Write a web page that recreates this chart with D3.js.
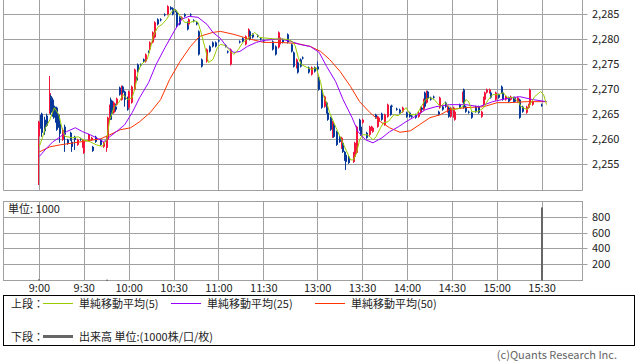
<!DOCTYPE html>
<html>
<head>
<meta charset="utf-8">
<script src="https://cdn.jsdelivr.net/npm/d3@7"></script>
<style>
  body { margin: 0; background: #fff; }
  svg { display: block; font-family: "Noto Sans CJK JP", "Noto Sans", sans-serif; }
</style>
</head>
<body>
<svg id="chart" width="638" height="362"></svg>
<script>
// --- data ---
const timeTicks = ["9:00", "9:30", "10:00", "10:30", "11:00", "11:30", "13:00", "13:30", "14:00", "14:30", "15:00", "15:30"];
const priceTicks = [2255, 2260, 2265, 2270, 2275, 2280, 2285];
const volumeTicks = [200, 400, 600, 800];

// [time, open, high, low, close]
const candles = [
  ["9:00", 2260.7, 2263.8, 2251.0, 2263.6], ["9:01", 2264.6, 2265.0, 2262.2, 2262.4],
  ["9:02", 2265.2, 2265.4, 2260.6, 2261.4], ["9:04", 2264.0, 2264.6, 2261.0, 2261.7],
  ["9:05", 2264.8, 2265.2, 2262.6, 2262.8], ["9:07", 2265.3, 2272.7, 2265.2, 2269.3],
  ["9:08", 2268.7, 2269.0, 2265.0, 2265.4], ["9:09", 2268.0, 2268.4, 2264.6, 2264.8],
  ["9:10", 2266.8, 2267.2, 2264.2, 2264.4], ["9:11", 2266.4, 2266.6, 2263.4, 2263.6],
  ["9:12", 2266.4, 2266.6, 2261.8, 2262.0], ["9:13", 2265.0, 2265.2, 2262.4, 2262.6],
  ["9:14", 2263.2, 2263.6, 2259.4, 2261.2], ["9:16", 2260.0, 2262.4, 2259.8, 2262.0],
  ["9:17", 2262.6, 2263.0, 2257.6, 2261.0], ["9:19", 2260.0, 2260.2, 2259.0, 2259.2],
  ["9:21", 2261.4, 2261.6, 2259.8, 2260.0], ["9:22", 2259.6, 2260.0, 2257.6, 2258.6],
  ["9:24", 2260.6, 2260.8, 2258.0, 2260.0], ["9:26", 2259.0, 2260.2, 2258.8, 2260.0],
  ["9:28", 2260.2, 2260.4, 2259.8, 2260.0], ["9:29", 2258.6, 2260.2, 2258.4, 2260.0],
  ["9:30", 2257.4, 2260.0, 2257.2, 2259.8], ["9:33", 2260.0, 2261.2, 2259.8, 2261.0],
  ["9:35", 2260.0, 2260.6, 2259.8, 2260.4], ["9:36", 2258.6, 2258.8, 2257.6, 2257.8],
  ["9:38", 2260.6, 2260.8, 2259.4, 2259.6], ["9:41", 2260.0, 2260.2, 2258.8, 2259.0],
  ["9:43", 2258.6, 2259.6, 2258.4, 2259.4], ["9:45", 2258.4, 2260.8, 2257.6, 2260.6],
  ["9:46", 2260.0, 2264.6, 2259.8, 2264.4], ["9:47", 2264.0, 2267.0, 2263.8, 2266.0],
  ["9:48", 2268.0, 2268.4, 2264.0, 2264.0], ["9:49", 2267.6, 2267.8, 2265.2, 2265.4],
  ["9:50", 2265.4, 2267.6, 2265.2, 2267.4], ["9:51", 2266.6, 2267.2, 2265.6, 2266.0],
  ["9:52", 2267.0, 2268.4, 2266.8, 2268.2], ["9:54", 2270.4, 2270.6, 2268.8, 2269.0],
  ["9:55", 2268.0, 2270.8, 2267.8, 2270.4], ["9:56", 2270.6, 2270.8, 2269.2, 2269.4],
  ["9:57", 2269.6, 2269.8, 2266.6, 2268.0], ["9:59", 2268.4, 2268.6, 2265.8, 2266.0],
  ["10:00", 2266.4, 2269.8, 2266.2, 2269.6], ["10:02", 2267.4, 2270.8, 2267.2, 2270.6],
  ["10:04", 2270.0, 2274.2, 2269.8, 2274.0], ["10:05", 2272.4, 2272.6, 2271.6, 2271.8],
  ["10:06", 2275.0, 2275.2, 2273.4, 2273.6], ["10:08", 2275.0, 2275.2, 2274.6, 2274.8],
  ["10:10", 2276.0, 2276.2, 2275.4, 2275.6], ["10:11", 2275.6, 2277.2, 2275.4, 2277.0],
  ["10:13", 2277.6, 2277.8, 2277.2, 2277.4], ["10:14", 2278.0, 2279.6, 2277.8, 2279.4],
  ["10:16", 2279.4, 2281.6, 2279.2, 2281.4], ["10:17", 2280.4, 2283.6, 2280.2, 2283.4],
  ["10:19", 2284.0, 2284.2, 2282.8, 2283.0], ["10:21", 2284.0, 2284.2, 2283.6, 2283.8],
  ["10:24", 2285.0, 2285.2, 2284.6, 2284.8], ["10:26", 2285.0, 2286.8, 2284.8, 2286.6],
  ["10:28", 2286.4, 2286.6, 2285.8, 2286.0], ["10:29", 2286.2, 2286.4, 2284.8, 2285.0],
  ["10:31", 2285.8, 2286.0, 2285.4, 2285.6], ["10:32", 2285.4, 2285.6, 2282.4, 2282.6],
  ["10:34", 2284.4, 2284.6, 2282.8, 2283.0], ["10:35", 2284.0, 2284.6, 2283.8, 2284.4],
  ["10:37", 2285.0, 2285.2, 2284.4, 2284.6], ["10:39", 2283.4, 2283.6, 2281.8, 2282.0],
  ["10:40", 2283.0, 2284.2, 2282.8, 2284.0], ["10:41", 2285.0, 2285.2, 2284.6, 2284.8],
  ["10:43", 2283.8, 2284.0, 2283.4, 2283.6], ["10:45", 2283.4, 2283.6, 2282.8, 2283.0],
  ["10:47", 2281.6, 2281.8, 2276.8, 2277.0], ["10:49", 2276.0, 2276.2, 2274.4, 2274.6],
  ["10:52", 2275.6, 2278.2, 2275.4, 2278.0], ["10:54", 2278.6, 2278.8, 2277.4, 2277.6],
  ["10:56", 2279.4, 2279.6, 2278.4, 2278.6], ["10:58", 2279.4, 2279.6, 2278.4, 2278.6],
  ["11:00", 2279.8, 2280.0, 2279.4, 2279.6], ["11:05", 2278.8, 2279.0, 2278.4, 2278.6],
  ["11:06", 2277.6, 2277.8, 2277.2, 2277.4], ["11:08", 2275.0, 2278.2, 2274.8, 2278.0],
  ["11:14", 2279.6, 2279.8, 2279.2, 2279.4], ["11:16", 2280.2, 2280.4, 2279.4, 2279.6],
  ["11:18", 2279.0, 2280.8, 2278.8, 2280.6], ["11:20", 2280.6, 2282.2, 2280.4, 2282.0],
  ["11:21", 2281.6, 2281.8, 2279.8, 2280.0], ["11:23", 2281.0, 2281.2, 2280.2, 2280.4],
  ["11:26", 2280.8, 2281.0, 2280.4, 2280.6], ["11:28", 2280.2, 2280.4, 2279.8, 2280.0],
  ["11:30", 2279.8, 2280.0, 2279.4, 2279.6],
  ["12:30", 2279.6, 2279.8, 2277.8, 2278.0], ["12:32", 2278.6, 2278.8, 2276.8, 2277.0],
  ["12:34", 2278.4, 2281.6, 2278.2, 2281.4], ["12:35", 2279.0, 2280.6, 2278.8, 2280.4],
  ["12:37", 2280.0, 2280.2, 2279.2, 2279.4], ["12:40", 2281.0, 2281.2, 2279.2, 2279.4],
  ["12:43", 2279.0, 2279.2, 2277.4, 2277.6], ["12:44", 2277.4, 2277.6, 2274.4, 2274.6],
  ["12:46", 2274.4, 2276.2, 2274.2, 2276.0], ["12:47", 2275.4, 2275.6, 2273.2, 2273.4],
  ["12:49", 2276.0, 2276.2, 2274.4, 2274.6], ["12:50", 2276.4, 2276.6, 2276.0, 2276.2],
  ["12:54", 2274.4, 2274.6, 2273.2, 2273.4], ["12:56", 2273.0, 2274.6, 2272.8, 2274.4],
  ["12:58", 2274.4, 2274.6, 2273.4, 2273.6], ["13:00", 2274.6, 2275.6, 2273.6, 2274.0],
  ["13:01", 2272.4, 2272.6, 2269.8, 2270.0], ["13:03", 2270.0, 2270.2, 2266.2, 2266.4],
  ["13:05", 2266.6, 2268.8, 2266.4, 2268.6], ["13:06", 2267.4, 2267.6, 2265.2, 2265.4],
  ["13:07", 2265.4, 2265.6, 2263.8, 2264.0], ["13:09", 2264.4, 2264.6, 2261.8, 2262.0],
  ["13:10", 2260.6, 2263.8, 2260.4, 2263.6], ["13:11", 2263.0, 2263.2, 2260.4, 2260.6],
  ["13:13", 2261.6, 2261.8, 2258.8, 2259.0], ["13:15", 2260.6, 2260.8, 2259.4, 2259.6],
  ["13:16", 2258.4, 2260.6, 2258.2, 2260.4], ["13:17", 2259.4, 2259.6, 2257.4, 2257.6],
  ["13:18", 2257.6, 2257.8, 2255.8, 2256.0], ["13:19", 2257.0, 2257.2, 2254.0, 2255.6],
  ["13:21", 2256.6, 2256.8, 2255.2, 2255.4], ["13:24", 2255.6, 2257.6, 2255.4, 2257.4],
  ["13:25", 2256.6, 2259.6, 2256.4, 2259.4], ["13:26", 2257.4, 2262.8, 2257.2, 2262.6],
  ["13:28", 2264.0, 2264.2, 2261.8, 2262.0], ["13:29", 2262.6, 2262.8, 2260.8, 2261.0],
  ["13:30", 2263.4, 2264.2, 2263.2, 2264.0], ["13:33", 2261.4, 2261.6, 2260.2, 2260.4],
  ["13:35", 2261.0, 2262.8, 2260.8, 2262.6], ["13:36", 2262.0, 2262.8, 2261.8, 2262.6],
  ["13:37", 2261.6, 2262.6, 2261.4, 2262.4], ["13:39", 2265.0, 2265.2, 2264.2, 2264.4],
  ["13:40", 2262.6, 2264.8, 2262.4, 2264.6], ["13:41", 2263.6, 2264.6, 2263.4, 2264.4],
  ["13:43", 2265.2, 2265.4, 2263.8, 2264.0], ["13:45", 2263.0, 2265.2, 2262.8, 2265.0],
  ["13:47", 2264.6, 2267.2, 2264.4, 2267.0], ["13:49", 2266.6, 2266.8, 2264.8, 2265.0],
  ["13:50", 2266.8, 2267.0, 2266.4, 2266.6], ["13:53", 2266.2, 2266.4, 2265.8, 2266.0],
  ["13:55", 2266.0, 2266.2, 2265.2, 2265.4], ["13:57", 2265.6, 2266.6, 2265.4, 2266.4],
  ["14:00", 2265.4, 2265.6, 2264.4, 2264.6], ["14:02", 2265.4, 2265.6, 2264.4, 2264.6],
  ["14:03", 2264.8, 2265.0, 2264.4, 2264.6], ["14:06", 2265.0, 2265.2, 2264.2, 2264.4],
  ["14:08", 2264.6, 2265.6, 2264.4, 2265.4], ["14:09", 2265.4, 2266.6, 2265.2, 2266.4],
  ["14:10", 2266.4, 2266.6, 2265.8, 2266.0], ["14:11", 2266.0, 2268.2, 2265.8, 2268.0],
  ["14:12", 2269.4, 2269.6, 2266.4, 2266.6], ["14:13", 2267.4, 2269.8, 2267.2, 2269.6],
  ["14:14", 2269.6, 2269.8, 2268.0, 2268.2], ["14:16", 2268.4, 2268.6, 2267.8, 2268.0],
  ["14:18", 2268.6, 2268.8, 2268.2, 2268.4], ["14:21", 2265.6, 2265.8, 2264.8, 2265.0],
  ["14:22", 2266.4, 2268.6, 2266.2, 2268.4], ["14:24", 2266.6, 2266.8, 2265.8, 2266.0],
  ["14:26", 2267.4, 2267.6, 2266.4, 2266.6], ["14:27", 2265.6, 2266.8, 2265.4, 2266.6],
  ["14:28", 2266.4, 2266.6, 2264.4, 2264.6], ["14:29", 2264.6, 2266.6, 2264.4, 2266.4],
  ["14:31", 2264.6, 2266.6, 2264.4, 2266.4], ["14:32", 2264.0, 2265.8, 2263.8, 2265.6],
  ["14:35", 2267.0, 2267.2, 2266.2, 2266.4], ["14:37", 2267.6, 2269.6, 2267.4, 2269.4],
  ["14:38", 2270.0, 2270.2, 2266.2, 2266.4], ["14:39", 2266.6, 2266.8, 2265.4, 2265.6],
  ["14:41", 2265.6, 2265.8, 2265.2, 2265.4], ["14:43", 2265.4, 2265.6, 2264.2, 2264.4],
  ["14:46", 2266.6, 2266.8, 2265.4, 2265.6], ["14:48", 2266.6, 2266.8, 2265.2, 2265.4],
  ["14:50", 2264.6, 2265.8, 2264.4, 2265.6], ["14:51", 2267.0, 2268.6, 2266.8, 2268.4],
  ["14:52", 2268.0, 2269.6, 2267.8, 2269.4], ["14:53", 2269.4, 2270.2, 2269.2, 2270.0],
  ["14:55", 2269.4, 2270.2, 2269.2, 2270.0], ["14:56", 2269.4, 2269.6, 2268.2, 2268.4],
  ["14:59", 2268.0, 2269.6, 2267.8, 2269.4], ["15:01", 2269.0, 2269.2, 2268.2, 2268.4],
  ["15:03", 2270.6, 2270.8, 2269.2, 2269.4], ["15:04", 2269.4, 2269.6, 2267.8, 2268.0],
  ["15:06", 2268.0, 2268.8, 2267.8, 2268.6], ["15:08", 2268.4, 2268.6, 2267.4, 2267.6],
  ["15:09", 2268.0, 2268.8, 2267.8, 2268.6], ["15:11", 2268.4, 2268.6, 2267.4, 2267.6],
  ["15:12", 2268.4, 2268.6, 2267.4, 2267.6], ["15:14", 2267.6, 2268.6, 2267.4, 2268.4],
  ["15:15", 2268.0, 2268.2, 2264.2, 2264.4], ["15:17", 2266.6, 2266.8, 2265.4, 2265.6],
  ["15:20", 2265.4, 2266.8, 2265.2, 2266.6], ["15:21", 2266.4, 2267.2, 2266.2, 2267.0],
  ["15:22", 2267.0, 2270.2, 2266.8, 2270.0], ["15:24", 2267.0, 2267.8, 2266.8, 2267.6],
  ["15:30", 2267.0, 2267.2, 2266.6, 2266.8]
];

// moving averages as drawn on the reference [time, value]
const ma5 = [
  ["9:00", 2258.7], ["9:02", 2260.4], ["9:04", 2262.4], ["9:07", 2264.0], ["9:10", 2266.4], ["9:13", 2265.0],
  ["9:15", 2262.4], ["9:17", 2260.7], ["9:22", 2260.4], ["9:26", 2260.6], ["9:29", 2260.0], ["9:34", 2259.6],
  ["9:38", 2259.0], ["9:42", 2258.7], ["9:45", 2260.0], ["9:47", 2264.0], ["9:50", 2266.6], ["9:53", 2267.4],
  ["9:56", 2269.0], ["9:59", 2268.0], ["10:02", 2268.4], ["10:04", 2270.4], ["10:06", 2273.6], ["10:08", 2275.0],
  ["10:12", 2276.0], ["10:14", 2278.0], ["10:16", 2280.6], ["10:19", 2282.4], ["10:22", 2283.0], ["10:25", 2284.0],
  ["10:27", 2285.0], ["10:30", 2286.0], ["10:32", 2285.6], ["10:34", 2284.7], ["10:37", 2283.4], ["10:41", 2283.4],
  ["10:44", 2283.7], ["10:46", 2283.4], ["10:48", 2281.4], ["10:51", 2278.0], ["10:53", 2275.4], ["10:56", 2276.0],
  ["10:59", 2278.4], ["11:01", 2279.0], ["11:04", 2278.8], ["11:08", 2277.6], ["11:10", 2277.0], ["11:13", 2278.0],
  ["11:16", 2279.4], ["11:21", 2280.6], ["11:24", 2281.4], ["11:27", 2280.4], ["11:30", 2280.3],
  ["12:31", 2280.1], ["12:35", 2280.1], ["12:40", 2280.0], ["12:43", 2279.6], ["12:45", 2278.7], ["12:47", 2276.4],
  ["12:49", 2275.0], ["12:53", 2274.4], ["12:56", 2274.0], ["12:59", 2274.4], ["13:02", 2271.4], ["13:04", 2268.6],
  ["13:06", 2267.4], ["13:08", 2265.4], ["13:12", 2262.6], ["13:15", 2260.6], ["13:18", 2258.6], ["13:22", 2256.0],
  ["13:24", 2256.0], ["13:26", 2257.4], ["13:28", 2260.0], ["13:30", 2261.0], ["13:33", 2261.0], ["13:35", 2260.6],
  ["13:37", 2260.0], ["13:39", 2260.6], ["13:42", 2262.4], ["13:44", 2263.4], ["13:47", 2263.6], ["13:51", 2265.0],
  ["13:54", 2264.8], ["13:59", 2266.4], ["14:02", 2265.0], ["14:06", 2265.0], ["14:08", 2266.0], ["14:12", 2268.0],
  ["14:15", 2268.4], ["14:18", 2268.0], ["14:22", 2266.6], ["14:25", 2267.4], ["14:28", 2266.6], ["14:30", 2266.0],
  ["14:34", 2266.2], ["14:37", 2266.6], ["14:39", 2268.0], ["14:41", 2267.6], ["14:43", 2265.6], ["14:47", 2265.6],
  ["14:51", 2266.4], ["14:54", 2268.0], ["14:57", 2269.0], ["15:01", 2269.0], ["15:04", 2269.4], ["15:07", 2268.4],
  ["15:11", 2268.4], ["15:14", 2267.6], ["15:16", 2266.6], ["15:20", 2266.0], ["15:23", 2267.6], ["15:25", 2268.6],
  ["15:29", 2269.6], ["15:31", 2269.0], ["15:33", 2267.0]
];
const ma25 = [
  ["9:00", 2256.7], ["9:05", 2258.4], ["9:09", 2259.6], ["9:14", 2260.6], ["9:18", 2261.6], ["9:24", 2262.4],
  ["9:29", 2261.6], ["9:34", 2261.0], ["9:38", 2260.4], ["9:43", 2259.6], ["9:47", 2260.6], ["9:53", 2262.0],
  ["9:57", 2263.0], ["10:02", 2265.4], ["10:07", 2268.4], ["10:13", 2271.4], ["10:18", 2275.0], ["10:24", 2278.4],
  ["10:30", 2281.6], ["10:35", 2284.0], ["10:40", 2284.6], ["10:46", 2284.4], ["10:52", 2283.0], ["10:56", 2281.4],
  ["11:01", 2280.2], ["11:05", 2278.6], ["11:10", 2277.4], ["11:14", 2277.6], ["11:19", 2278.6], ["11:25", 2279.4],
  ["11:30", 2279.8], ["12:35", 2280.1], ["12:42", 2279.6], ["12:48", 2279.0], ["12:55", 2278.6], ["13:01", 2277.4],
  ["13:06", 2274.6], ["13:12", 2271.6], ["13:17", 2268.0], ["13:23", 2264.4], ["13:27", 2261.6], ["13:32", 2260.0],
  ["13:37", 2259.4], ["13:43", 2260.4], ["13:48", 2261.6], ["13:54", 2262.6], ["13:59", 2263.6], ["14:06", 2264.8],
  ["14:12", 2266.0], ["14:19", 2266.6], ["14:28", 2267.0], ["14:39", 2267.0], ["14:48", 2266.6], ["14:57", 2267.6],
  ["15:06", 2268.2], ["15:15", 2268.6], ["15:24", 2268.0], ["15:33", 2267.6]
];
const ma50 = [
  ["9:00", 2257.6], ["9:07", 2258.6], ["9:14", 2259.0], ["9:23", 2259.4], ["9:32", 2259.8], ["9:41", 2260.2],
  ["9:47", 2261.0], ["9:54", 2262.0], ["10:01", 2262.4], ["10:07", 2263.6], ["10:14", 2265.4], ["10:21", 2268.0],
  ["10:27", 2272.0], ["10:34", 2275.6], ["10:41", 2278.6], ["10:47", 2280.6], ["10:56", 2281.4], ["11:01", 2281.6],
  ["11:10", 2281.0], ["11:19", 2280.2], ["11:30", 2279.4], ["12:35", 2279.4], ["12:46", 2279.2], ["12:55", 2278.6],
  ["13:02", 2277.6], ["13:08", 2276.0], ["13:15", 2273.6], ["13:22", 2270.6], ["13:28", 2267.6], ["13:35", 2265.4],
  ["13:42", 2263.6], ["13:48", 2262.4], ["13:55", 2261.5], ["14:02", 2261.8], ["14:08", 2263.0], ["14:15", 2264.4],
  ["14:22", 2265.0], ["14:28", 2266.0], ["14:39", 2266.4], ["14:51", 2266.6], ["15:00", 2267.4], ["15:08", 2267.4],
  ["15:20", 2267.6], ["15:33", 2267.6]
];

// volume in 1000 units [time, value]
const volume = [["9:00", 14], ["9:45", 10], ["15:30", 925]];

const legendTop = [
  ["単純移動平均(5)", "#99cc00", 43],
  ["単純移動平均(25)", "#9900ff", 171],
  ["単純移動平均(50)", "#ff3300", 315]
];

// --- helpers ---
// minutes along the trading session; the lunch break is squeezed to a small gap
function sessionMin(t) {
  const [h, m] = t.split(":").map(Number);
  const v = h * 60 + m;
  return v <= 690 ? v - 540 : v - 750 + 156;
}

const svg = d3.select("#chart");
const gridColor = "#a0a0a0";
const upColor = "#f5143c";
const downColor = "#06399a";

const x = d3.scaleLinear().domain([-24, 363]).range([3.5, 582.5]);
const y = d3.scaleLinear().domain([2250, 2287.85]).range([190, 0]);
const yv = d3.scaleLinear().domain([0, 1000]).range([280.5, 201.5]);
const px = v => Math.floor(v) + 0.5;

// --- main panel grid ---
const grid = svg.append("g").attr("stroke", gridColor).attr("stroke-width", 1).attr("fill", "none");
priceTicks.forEach(p => {
  grid.append("line").attr("x1", 3.5).attr("x2", 587.5).attr("y1", px(y(p))).attr("y2", px(y(p)));
});
timeTicks.forEach(t => {
  const xx = px(x(sessionMin(t)));
  grid.append("line").attr("x1", xx).attr("x2", xx).attr("y1", 0).attr("y2", 190);
  grid.append("line").attr("x1", xx).attr("x2", xx).attr("y1", 201.5).attr("y2", 280.5);
});
grid.append("path").attr("d", "M3.5,0V190.5H582.5V0");

// volume panel grid
grid.append("rect").attr("x", 3.5).attr("y", 201.5).attr("width", 579).attr("height", 79);
volumeTicks.forEach(v => {
  grid.append("line").attr("x1", 3.5).attr("x2", 587.5).attr("y1", px(yv(v))).attr("y2", px(yv(v)));
});

// --- candles ---
const cg = svg.append("g");
candles.forEach(([t, o, h, l, c]) => {
  const cx = Math.round(x(sessionMin(t)));
  const col = c >= o ? upColor : downColor;
  const yh = y(h), yl = y(l);
  cg.append("rect").attr("x", cx - 1).attr("y", yh).attr("width", 1).attr("height", Math.max(1, yl - yh)).attr("fill", col);
  const top = y(Math.max(o, c)), bot = y(Math.min(o, c));
  cg.append("rect").attr("x", cx - 1).attr("y", top).attr("width", 2).attr("height", Math.max(1, bot - top)).attr("fill", col);
});

// --- moving averages ---
svg.append("clipPath").attr("id", "clip").append("rect").attr("x", 3.5).attr("y", 0).attr("width", 579).attr("height", 190);
const line = d3.line().x(d => x(sessionMin(d[0]))).y(d => y(d[1]));
[[ma50, "#ff3300"], [ma25, "#9900ff"], [ma5, "#99cc00"]].forEach(([data, col]) => {
  svg.append("path").datum(data).attr("d", line).attr("fill", "none")
    .attr("stroke", col).attr("stroke-width", 1).attr("clip-path", "url(#clip)");
});

// --- volume bars ---
svg.append("g").selectAll("rect").data(volume).join("rect")
  .attr("x", d => Math.round(x(sessionMin(d[0]))) - 1)
  .attr("y", d => yv(d[1]))
  .attr("width", 2)
  .attr("height", d => Math.max(1, 280.5 - yv(d[1])))
  .attr("fill", "#666");

// --- axis labels ---
const labels = svg.append("g").attr("fill", "#222").attr("font-size", 11);
priceTicks.forEach(p => {
  labels.append("text").attr("x", 592).attr("y", px(y(p))).attr("dy", "0.35em").text(d3.format(",")(p));
});
volumeTicks.forEach(v => {
  labels.append("text").attr("x", 592).attr("y", px(yv(v))).attr("dy", "0.35em").text(v);
});
timeTicks.forEach(t => {
  labels.append("text").attr("x", x(sessionMin(t))).attr("y", 292).attr("text-anchor", "middle").text(t);
});
labels.append("text").attr("x", 8).attr("y", 213).text("単位: 1000");

// --- legend ---
svg.append("rect").attr("x", 3.5).attr("y", 295.5).attr("width", 631).attr("height", 50)
  .attr("fill", "none").attr("stroke", "#000");
const lg = svg.append("g").attr("font-size", 11).attr("fill", "#222");
lg.append("text").attr("x", 11).attr("y", 307.5).text("上段：");
legendTop.forEach(([name, col, lx]) => {
  lg.append("line").attr("x1", lx).attr("x2", lx + 30).attr("y1", 303.5).attr("y2", 303.5).attr("stroke", col);
  lg.append("text").attr("x", lx + 36).attr("y", 307.5).text(name);
});
lg.append("text").attr("x", 11).attr("y", 340.5).text("下段：");
lg.append("line").attr("x1", 43).attr("x2", 73).attr("y1", 336.5).attr("y2", 336.5).attr("stroke", "#666").attr("stroke-width", 3);
lg.append("text").attr("x", 79).attr("y", 340.5).text("出来高 単位:(1000株/口/枚)");

svg.append("text").attr("x", 617).attr("y", 358.5).attr("text-anchor", "end")
  .attr("font-size", 11).attr("fill", "#666").text("(c)Quants Research Inc.");
</script>
</body>
</html>
